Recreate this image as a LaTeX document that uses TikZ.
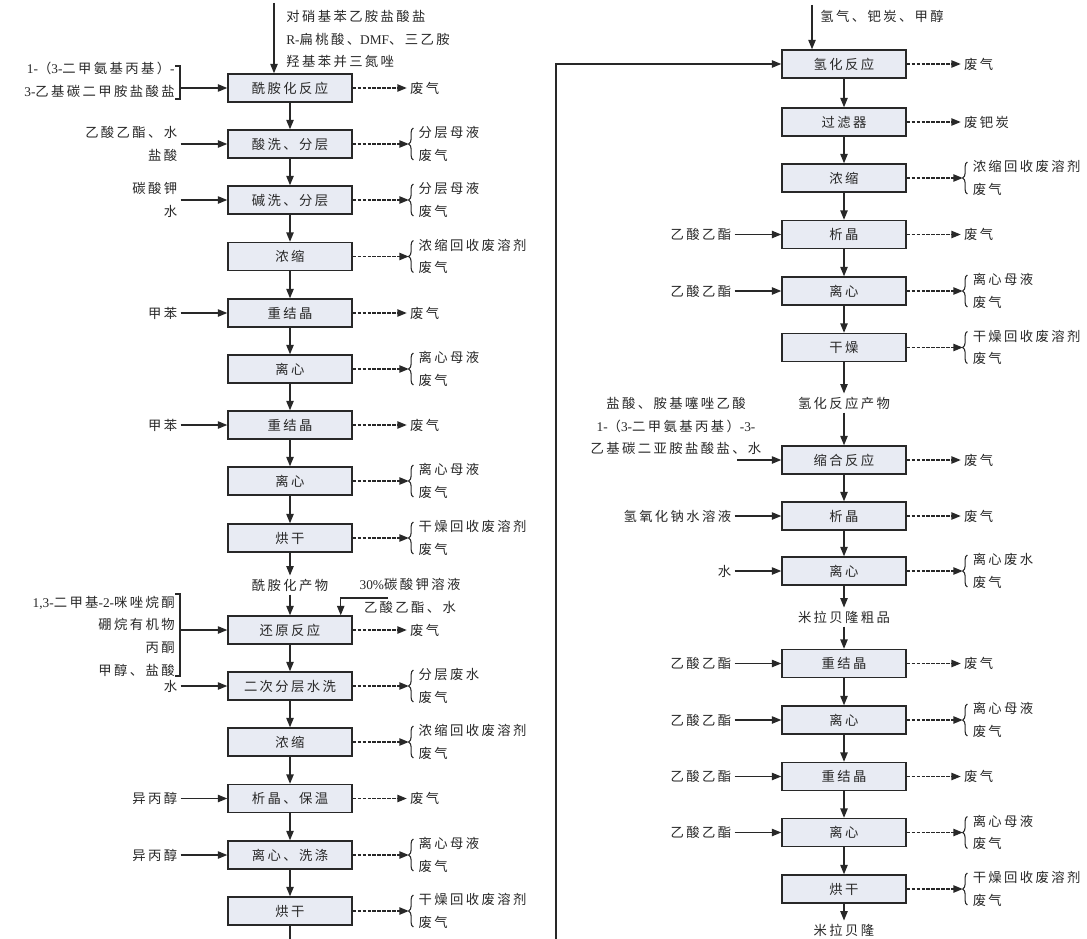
\documentclass[tikz,border=0pt]{standalone}
\usepackage{fontspec}
\setmainfont[LetterSpace=18]{Noto Sans CJK SC}
\newfontfamily\lat{Liberation Serif}
\usetikzlibrary{arrows.meta,decorations.pathreplacing}
\definecolor{boxfill}{RGB}{232,235,243}
\definecolor{ink}{RGB}{40,40,40}
\begin{document}
\begin{tikzpicture}[x=0.75pt,y=-0.75pt,
  every node/.style={font=\fontsize{10}{17}\selectfont, text=ink},
  proc/.style={draw=ink, fill=boxfill, line width=1.1pt, minimum width=93pt, minimum height=21pt, inner sep=0pt},
  lbl/.style={inner sep=0pt, outer sep=2.5pt},
  flow/.style={draw=ink, line width=0.9pt, -{Triangle[length=7pt,width=5.5pt]}},
  waste/.style={flow, dash pattern=on 2.5pt off 1.2pt},
  brc/.style={draw=ink, line width=0.8pt, decorate, decoration={brace, amplitude=3.5pt}},
  bkt/.style={draw=ink, line width=0.8pt},
]
\fill[white] (0,0) rectangle (1087,938);
\useasboundingbox (0,0) rectangle (1087,938);

% ---------------- left column boxes
\foreach \n/\y/\t in {L1/88/酰胺化反应, L2/144/酸洗、分层, L3/200/碱洗、分层, L4/256.5/浓缩,
  L5/313/重结晶, L6/369/离心, L7/425/重结晶, L8/481/离心, L9/538/烘干,
  L10/630/还原反应, L11/686/二次分层水洗, L12/742/浓缩, L13/798.5/析晶、保温,
  L14/855/离心、洗涤, L15/911/烘干}
  \node[proc] (\n) at (290,\y) {\t};
\node[lbl] (Lp) at (290,585) {酰胺化产物};

% ---------------- right column boxes
\foreach \n/\y/\t in {R1/64/氢化反应, R2/122/过滤器, R3/178/浓缩, R4/234.5/析晶, R5/291/离心,
  R6/347.5/干燥, R7/460/缩合反应, R8/516/析晶, R9/571/离心, R10/663.5/重结晶,
  R11/720/离心, R12/776.5/重结晶, R13/832.5/离心, R14/889/烘干}
  \node[proc] (\n) at (844,\y) {\t};
\node[lbl] (Rp1) at (844,403) {氢化反应产物};
\node[lbl] (Rp2) at (844,617) {米拉贝隆粗品};
\node[lbl] (Rp3) at (844,930) {米拉贝隆};

% ---------------- main flow
\foreach \a/\b in {L1/L2, L2/L3, L3/L4, L4/L5, L5/L6, L6/L7, L7/L8, L8/L9, L9/Lp, Lp/L10,
  L10/L11, L11/L12, L12/L13, L13/L14, L14/L15,
  R1/R2, R2/R3, R3/R4, R4/R5, R5/R6, R6/Rp1, Rp1/R7, R7/R8, R8/R9, R9/Rp2, Rp2/R10,
  R10/R11, R11/R12, R12/R13, R13/R14, R14/Rp3}
  \draw[flow] (\a) -- (\b);

% link from left column to hydrogenation
\coordinate (j1) at (290,965);
\coordinate (j2) at (556,965);
\coordinate (j3) at (556,64);
\draw[flow] (L15) -- (j1) -- (j2) -- (j3) -- (R1);

% ---------------- single waste outputs
\foreach \n/\t in {L1/废气, L5/废气, L7/废气, L10/废气, L13/废气,
  R1/废气, R2/废钯炭, R4/废气, R7/废气, R8/废气, R10/废气, R12/废气} {
  \node[lbl,anchor=west] (o\n) at ([xshift=40.5pt]\n.east) {\t};
  \draw[waste] (\n) -- (o\n);
}

% ---------------- braced waste outputs
\foreach \n/\a/\b in {L2/分层母液/废气, L3/分层母液/废气, L4/浓缩回收废溶剂/废气,
  L6/离心母液/废气, L8/离心母液/废气, L9/干燥回收废溶剂/废气, L11/分层废水/废气,
  L12/浓缩回收废溶剂/废气, L14/离心母液/废气, L15/干燥回收废溶剂/废气,
  R3/浓缩回收废溶剂/废气, R5/离心母液/废气, R6/干燥回收废溶剂/废气, R9/离心废水/废气,
  R11/离心母液/废气, R13/离心母液/废气, R14/干燥回收废溶剂/废气} {
  \coordinate (b\n) at ([xshift=42pt]\n.east);
  \node[lbl,anchor=west,align=left] (o\n) at ([xshift=47pt]\n.east) {\a\\\b};
  \draw[brc] ([xshift=45.5pt,yshift=-12pt]\n.east) -- ([xshift=45.5pt,yshift=12pt]\n.east);
  \draw[waste] (\n) -- (b\n);
}

% ---------------- simple inputs
\foreach \n/\t in {L2/{乙酸乙酯、水\\盐酸}, L3/{碳酸钾\\水}, L5/甲苯, L7/甲苯, L11/水,
  L13/异丙醇, L14/异丙醇, R4/乙酸乙酯, R5/乙酸乙酯, R8/氢氧化钠水溶液, R9/水,
  R10/乙酸乙酯, R11/乙酸乙酯, R12/乙酸乙酯, R13/乙酸乙酯} {
  \node[lbl,anchor=east,align=right] (i\n) at ([xshift=-35pt]\n.west) {\t};
  \draw[flow] (i\n) -- (\n);
}

% ---------------- top inputs
\coordinate (t1) at (274,3);
\draw[flow] (t1) -- (t1 |- L1.north);
\node[lbl,anchor=west,align=left] (tx1) at (283,39) {对硝基苯乙胺盐酸盐\\{\lat R-}扁桃酸、{\lat DMF}、三乙胺\\羟基苯并三氮唑};

\coordinate (t2) at (812,5);
\draw[flow] (t2) -- (t2 |- R1.north);
\node[lbl,anchor=west] (tx2) at (817,16) {氢气、钯炭、甲醇};

% ---------------- bracketed input to L1
\node[lbl,anchor=east,align=right] (g1) at (178,80) {{\lat 1-}（{\lat 3-}二甲氨基丙基）{\lat -}\\{\lat 3-}乙基碳二甲胺盐酸盐};
\draw[bkt] (175,66) -- (180,66) -- (180,99) -- (175,99);
\coordinate (k1) at (180,88);
\draw[flow] (k1) -- (L1);

% ---------------- bracketed input to L10
\node[lbl,anchor=east,align=right] (g10) at (178,636) {{\lat 1,3-}二甲基{\lat -2-}咪唑烷酮\\硼烷有机物\\丙酮\\甲醇、盐酸};
\draw[bkt] (175,594) -- (180,594) -- (180,676) -- (175,676);
\coordinate (k10) at (180,630);
\draw[flow] (k10) -- (L10);

% ---------------- carbonate input to L10 (top)
\node[lbl,align=center] (g10b) at (410,596) {{\lat 30\%}碳酸钾溶液\\乙酸乙酯、水};
\coordinate (k10b) at (388,598);
\draw[flow] (k10b) -| ([xshift=-9pt]L10.north east);

% ---------------- grouped input to R7
\node[lbl,align=center] (g7) at (676,426) {盐酸、胺基噻唑乙酸\\{\lat 1-}（{\lat 3-}二甲氨基丙基）{\lat -3-}\\乙基碳二亚胺盐酸盐、水};
\coordinate (k7) at (737,460);
\draw[flow] (k7) -- (R7);

\end{tikzpicture}
\end{document}
